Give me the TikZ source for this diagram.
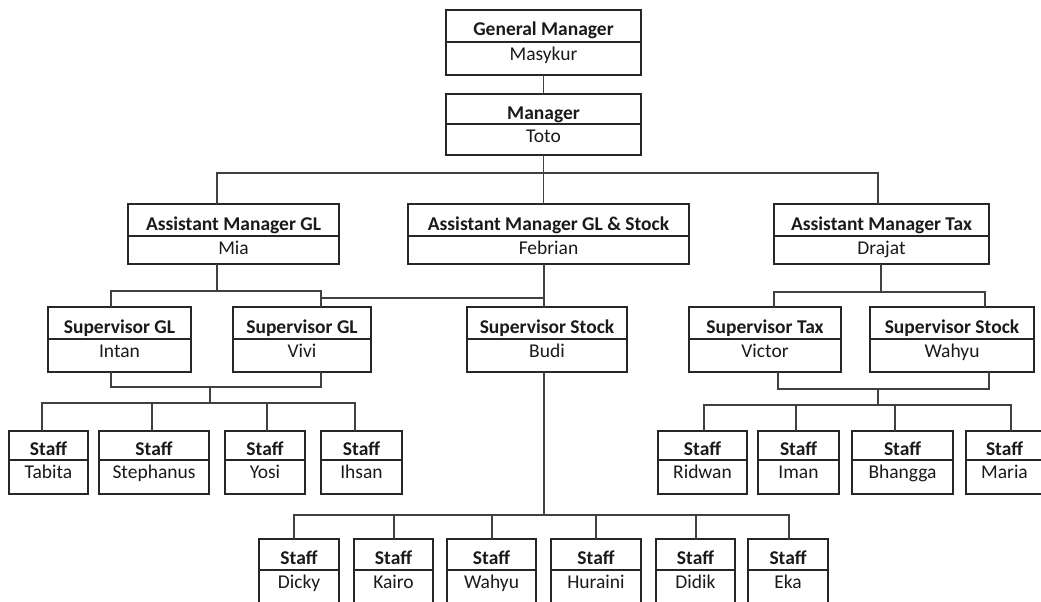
\documentclass[tikz,border=0pt]{standalone}
\usepackage{fontspec}
\setmainfont{Carlito}
\definecolor{boxline}{HTML}{262626}
\definecolor{linkline}{HTML}{404040}
\definecolor{textcol}{HTML}{1A1A1A}

% one position box: name, x1, y1, x2, y2, divider y, title, person
\newcommand\orgbox[8]{%
  \node[obox, minimum width={(#4-#2)*1pt}, minimum height={(#5-#3)*1pt},
        anchor=north west] (#1) at (#2,#3) {};
  \draw[divline] (#2,#6) -- (#4,#6);
  \node[ttl] (#1-t) at ({(#2+#4)/2},{(#3+#6)/2+10}) {#7};
  \node[nm] (#1-n) at ({(#2+#4)/2},#6+18) {#8};
}

\begin{document}
\begin{tikzpicture}[x=1pt,y=-1pt,
  obox/.style={draw=boxline, line width=1.5pt, fill=white, inner sep=0pt, outer sep=0pt},
  divline/.style={draw=boxline, line width=1.2pt},
  ttl/.style={anchor=base, inner sep=0pt, text=textcol,
              font=\fontsize{19.5}{22}\selectfont\bfseries},
  nm/.style={anchor=base, inner sep=0pt, text=textcol,
             font=\fontsize{19.5}{22}\selectfont},
  link/.style={draw=linkline, line width=1.5pt}]
\useasboundingbox (0,0) rectangle (1041,602);
\clip (0,0) rectangle (1041,602);

% junction points of the reporting lines
\coordinate (cA1) at (217,173);
\coordinate (cA3) at (878,173);
\coordinate (cB0) at (217,291);
\coordinate (cB1) at (111,291);
\coordinate (cB2) at (321,291);
\coordinate (cS)  at (544,298);
\coordinate (cT0) at (881,292);
\coordinate (cT1) at (774,292);
\coordinate (cT2) at (985,292);
\coordinate (cL1) at (111,387);
\coordinate (cL2) at (321,387);
\coordinate (cL0) at (210,387);
\coordinate (cL3) at (210,403);
\coordinate (k1) at (42,403);
\coordinate (k2) at (152,403);
\coordinate (k3) at (267,403);
\coordinate (k4) at (355,403);
\coordinate (cR1) at (778,389);
\coordinate (cR2) at (989,389);
\coordinate (cR0) at (878,389);
\coordinate (cR3) at (878,405);
\coordinate (m1) at (704,405);
\coordinate (m2) at (796,405);
\coordinate (m3) at (895,405);
\coordinate (m4) at (1011,405);
\coordinate (cD0) at (544,515);
\coordinate (n1) at (294,515);
\coordinate (n2) at (394,515);
\coordinate (n3) at (492,515);
\coordinate (n4) at (596,515);
\coordinate (n5) at (696,515);
\coordinate (n6) at (789,515);

% ---------- boxes ----------
\orgbox{gm}{446}{10}{641}{75}{42}{General Manager}{Masykur}
\orgbox{mgr}{446}{94}{641}{155}{124}{Manager}{Toto}
\orgbox{amgl}{128}{204}{339}{264}{236}{Assistant Manager GL}{Mia}
\orgbox{amgs}{408}{204}{689}{264}{236}{Assistant Manager GL \& Stock}{Febrian}
\orgbox{amt}{774}{204}{989}{264}{236}{Assistant Manager Tax}{Drajat}
\orgbox{intan}{48}{307}{191}{372}{339}{Supervisor GL}{Intan}
\orgbox{vivi}{233}{307}{371}{372}{339}{Supervisor GL}{Vivi}
\orgbox{budi}{467}{307}{627}{372}{339}{Supervisor Stock}{Budi}
\orgbox{victor}{689}{307}{841}{372}{339}{Supervisor Tax}{Victor}
\orgbox{wahyu}{870}{307}{1034}{372}{339}{Supervisor Stock}{Wahyu}
\orgbox{tabita}{9}{431}{88}{494}{460}{Staff}{Tabita}
\orgbox{steph}{99}{431}{209}{494}{460}{Staff}{Stephanus}
\orgbox{yosi}{225}{431}{305}{494}{460}{Staff}{Yosi}
\orgbox{ihsan}{321}{431}{402}{494}{460}{Staff}{Ihsan}
\orgbox{ridwan}{658}{431}{747}{494}{460}{Staff}{Ridwan}
\orgbox{iman}{758}{431}{839}{494}{460}{Staff}{Iman}
\orgbox{bhangga}{852}{431}{953}{494}{460}{Staff}{Bhangga}
\orgbox{maria}{966}{431}{1043}{494}{460}{Staff}{Maria}
\orgbox{dicky}{259}{539}{339}{612}{570}{Staff}{Dicky}
\orgbox{kairo}{354}{539}{433}{612}{570}{Staff}{Kairo}
\orgbox{wahyub}{447}{539}{536}{612}{570}{Staff}{Wahyu}
\orgbox{huraini}{551}{539}{641}{612}{570}{Staff}{Huraini}
\orgbox{didik}{656}{539}{735}{612}{570}{Staff}{Didik}
\orgbox{eka}{748}{539}{828}{612}{570}{Staff}{Eka}

% ---------- reporting lines ----------
\draw[link] (gm.south) -- (mgr.north);
\draw[link] (mgr.south) -- (mgr.south |- cA1);
\draw[link] (amgl.north -| cA1) -- (cA1) -- (cA3) -- (amt.north -| cA3);
\draw[link] (mgr.south |- cA1) -- (mgr.south |- amgs.north);

\draw[link] (amgl.south -| cB0) -- (cB0);
\draw[link] (intan.north -| cB1) -- (cB1) -- (cB2) -- (vivi.north -| cB2);
\draw[link] (amgs.south -| cS) -- (budi.north -| cS);
\draw[link] (cS) -- (cS -| cB2) -- (cB2);

\draw[link] (amt.south -| cT0) -- (cT0);
\draw[link] (victor.north -| cT1) -- (cT1) -- (cT2) -- (wahyu.north -| cT2);

\draw[link] (intan.south -| cL1) -- (cL1) -- (cL2) -- (vivi.south -| cL2);
\draw[link] (cL0) -- (cL3);
\draw[link] (tabita.north -| k1) -- (k1) -- (k4) -- (ihsan.north -| k4);
\draw[link] (k2) -- (steph.north -| k2);
\draw[link] (k3) -- (yosi.north -| k3);

\draw[link] (victor.south -| cR1) -- (cR1) -- (cR2) -- (wahyu.south -| cR2);
\draw[link] (cR0) -- (cR3);
\draw[link] (ridwan.north -| m1) -- (m1) -- (m4) -- (maria.north -| m4);
\draw[link] (m2) -- (iman.north -| m2);
\draw[link] (m3) -- (bhangga.north -| m3);

\draw[link] (budi.south -| cD0) -- (cD0);
\draw[link] (dicky.north -| n1) -- (n1) -- (n6) -- (eka.north -| n6);
\draw[link] (n2) -- (kairo.north -| n2);
\draw[link] (n3) -- (wahyub.north -| n3);
\draw[link] (n4) -- (huraini.north -| n4);
\draw[link] (n5) -- (didik.north -| n5);
\end{tikzpicture}
\end{document}
